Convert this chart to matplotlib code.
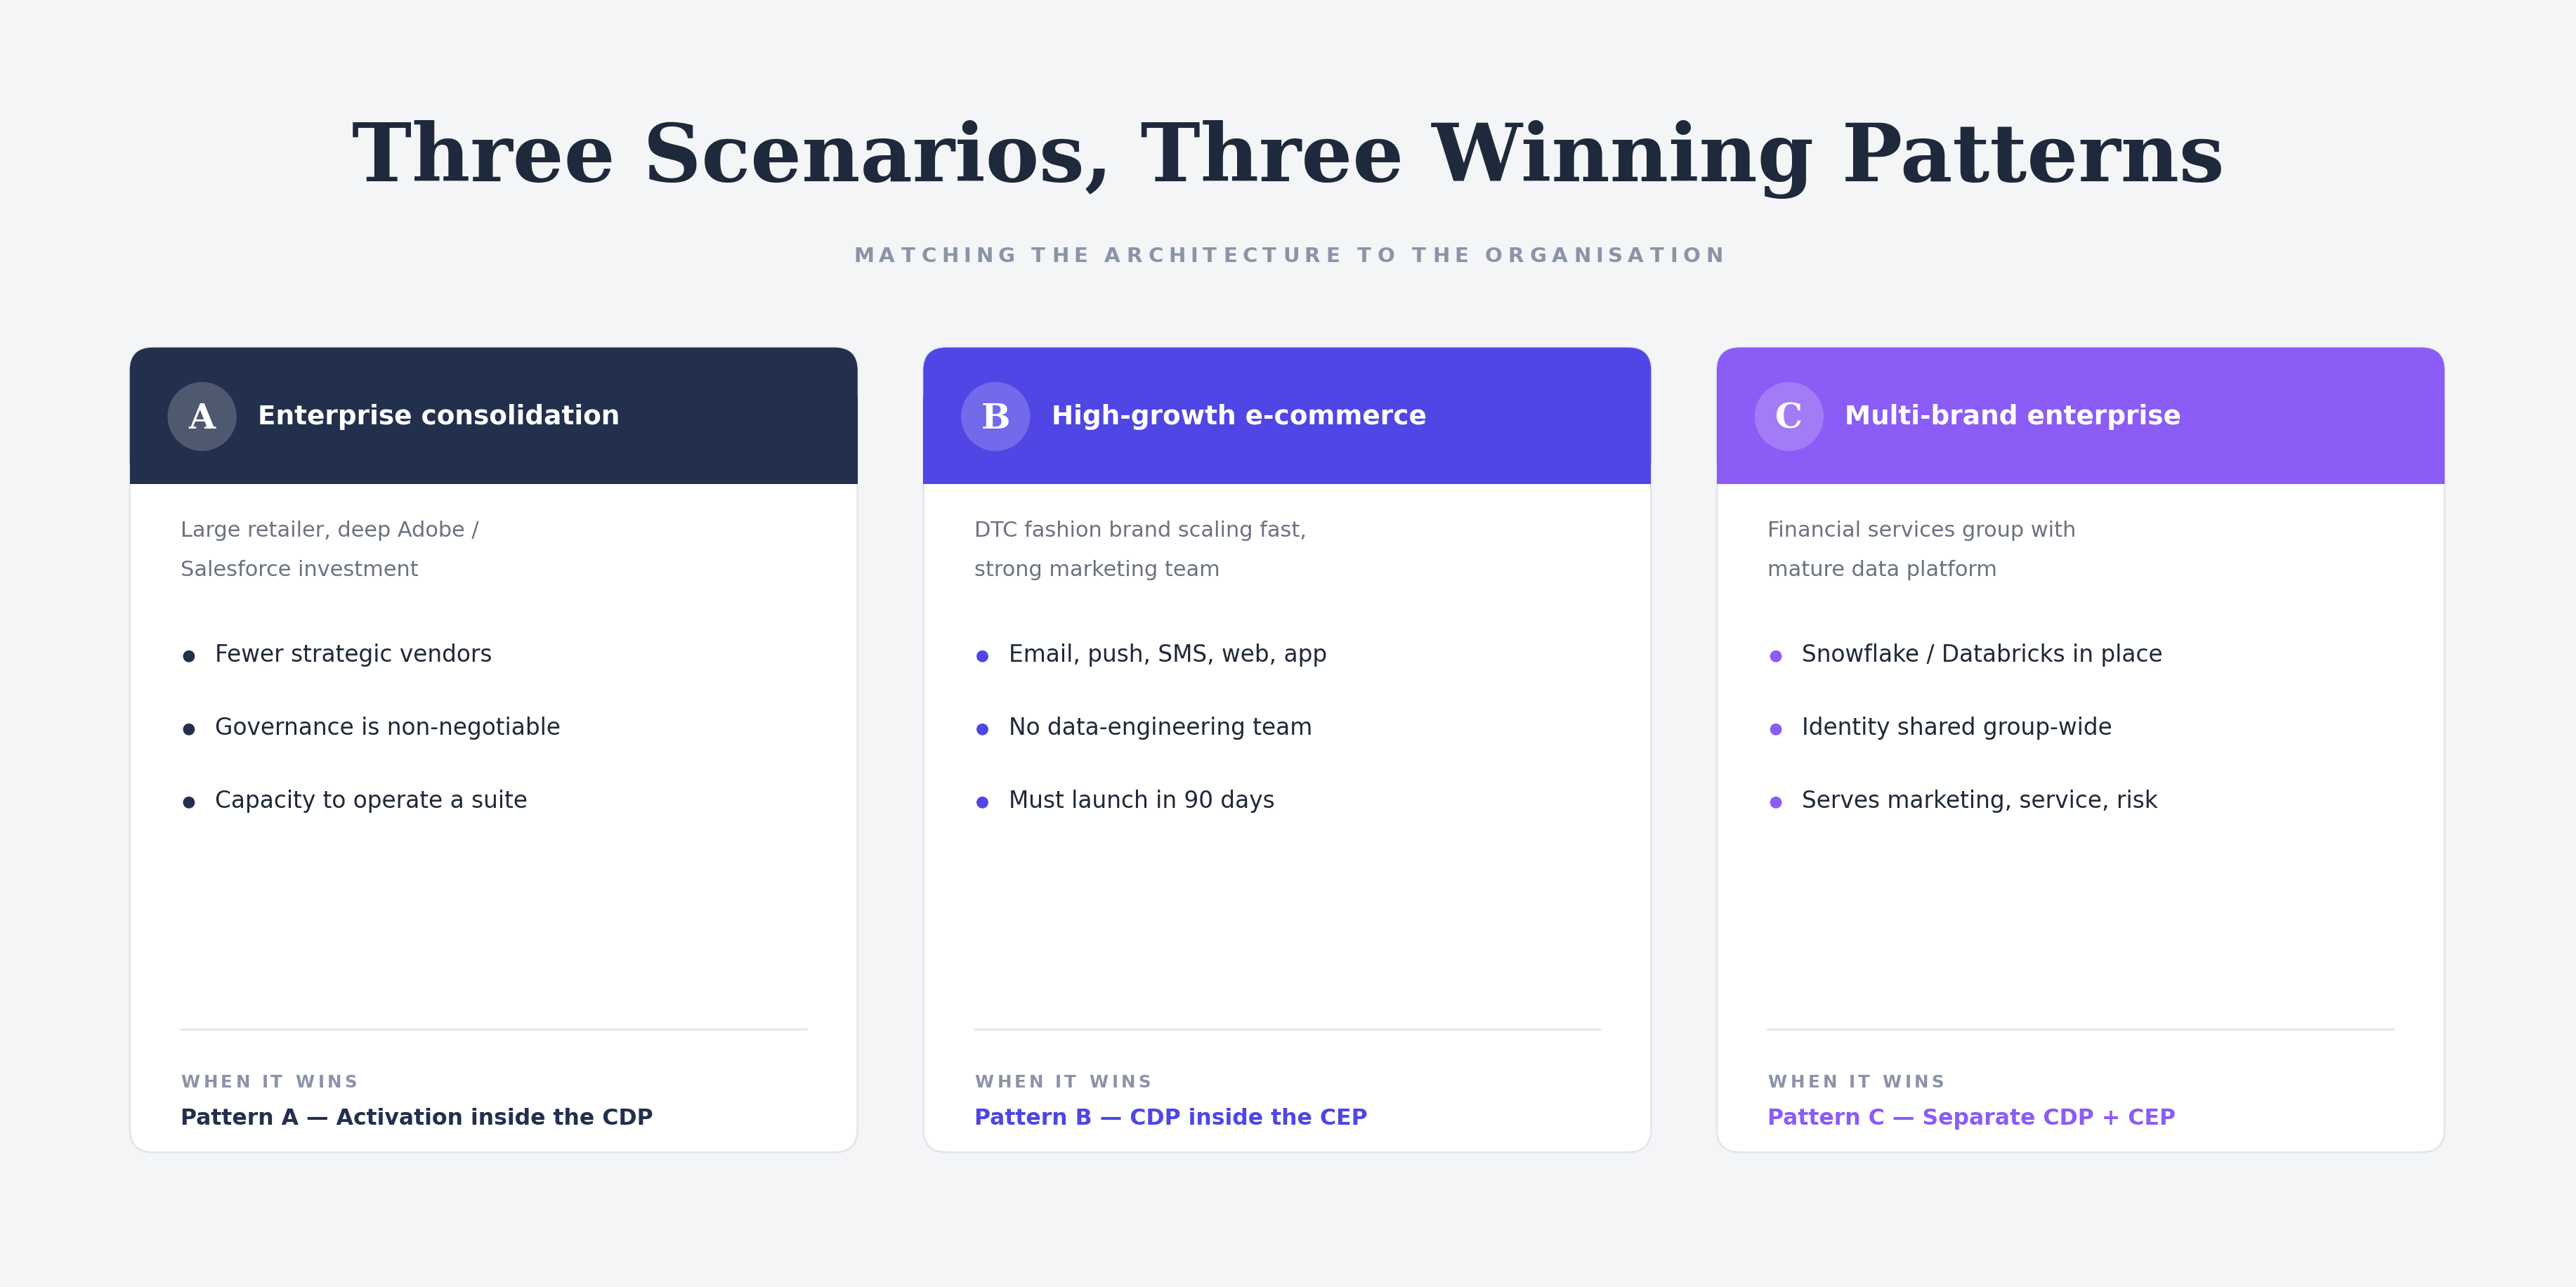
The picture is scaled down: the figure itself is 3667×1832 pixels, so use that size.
import matplotlib
matplotlib.use("Agg")
import matplotlib.pyplot as plt
from matplotlib.patches import FancyBboxPatch, Rectangle, Circle
from matplotlib.textpath import TextPath
from matplotlib.font_manager import FontProperties

title = "Three Scenarios, Three Winning Patterns"
subtitle = "MATCHING THE ARCHITECTURE TO THE ORGANISATION"
letters = ["A", "B", "C"]
card_titles = ["Enterprise consolidation", "High-growth e-commerce", "Multi-brand enterprise"]
descriptions = [["Large retailer, deep Adobe /", "Salesforce investment"],
                ["DTC fashion brand scaling fast,", "strong marketing team"],
                ["Financial services group with", "mature data platform"]]
bullets = [["Fewer strategic vendors", "Governance is non-negotiable", "Capacity to operate a suite"],
           ["Email, push, SMS, web, app", "No data-engineering team", "Must launch in 90 days"],
           ["Snowflake / Databricks in place", "Identity shared group-wide", "Serves marketing, service, risk"]]
patterns = ["Pattern A \u2014 Activation inside the CDP",
            "Pattern B \u2014 CDP inside the CEP",
            "Pattern C \u2014 Separate CDP + CEP"]
header_colors = ["#22304d", "#4f46e5", "#8b5cf6"]
pattern_colors = ["#22304d", "#4f46e5", "#8b5cf6"]

W, H = 1568, 784
S = 3667 / W
def fs(px):
    return px * S * 0.72

fig = plt.figure(figsize=(36.67, 18.33), dpi=100)
fig.patch.set_facecolor("#f4f5f7")
ax = fig.add_axes([0, 0, 1, 1])
ax.set_xlim(0, W); ax.set_ylim(H, 0); ax.axis("off")

def spaced(x_center, y, text, px, color, tracking, weight="bold"):
    fp = FontProperties(family="DejaVu Sans", weight=weight, size=px)
    widths = [TextPath((0, 0), c, prop=fp).get_extents().width if c != " " else px * 0.32 for c in text]
    adv = []
    for c in text:
        if c == " ":
            adv.append(px * 0.32)
        else:
            tp = TextPath((0, 0), c, prop=fp)
            adv.append(tp.get_extents().x1 + px * 0.06)
    total = sum(adv) + tracking * (len(text) - 1)
    x = x_center - total / 2 if x_center is not None else None
    return adv, total

def draw_spaced(x, y, text, px, color, tracking, center=False):
    adv, total = spaced(0, y, text, px, color, tracking)
    if center:
        x = x - total / 2
    for c, a in zip(text, adv):
        ax.text(x, y, c, fontsize=fs(px), color=color, fontweight="bold",
                family="DejaVu Sans", va="center", ha="left")
        x += a + tracking

ax.text(W / 2, 97, title, fontsize=fs(49), family="DejaVu Serif", fontweight="bold",
        color="#1e293b", ha="center", va="center")
draw_spaced(W / 2, 156, subtitle, 12.5, "#8b93a7", 3.2, center=True)

xs = [79, 562, 1045]
cw = 443
top, bot, hb = 212, 702, 295
for i, x0 in enumerate(xs):
    ax.add_patch(FancyBboxPatch((x0, top), cw, bot - top, boxstyle="round,pad=0,rounding_size=14",
                                fc="white", ec="#e3e6eb", lw=2))
    ax.add_patch(FancyBboxPatch((x0, top), cw, hb - top, boxstyle="round,pad=0,rounding_size=14",
                                fc=header_colors[i], ec="none"))
    ax.add_patch(Rectangle((x0, top + 30), cw, hb - top - 30, fc=header_colors[i], ec="none"))
    ax.add_patch(Circle((x0 + 44, 254), 21, fc="white", alpha=0.2, ec="none"))
    ax.text(x0 + 44, 255, letters[i], fontsize=fs(21), family="DejaVu Serif", fontweight="bold",
            color="white", ha="center", va="center")
    ax.text(x0 + 78, 254, card_titles[i], fontsize=fs(16), fontweight="bold", color="white",
            ha="left", va="center")
    for j, line in enumerate(descriptions[i]):
        ax.text(x0 + 31, 323 + 24 * j, line, fontsize=fs(13), color="#6b7280", ha="left", va="center")
    for j, b in enumerate(bullets[i]):
        y = 399 + 44.5 * j
        ax.add_patch(Circle((x0 + 36, y + 1), 3.6, fc=pattern_colors[i], ec="none"))
        ax.text(x0 + 52, y, b, fontsize=fs(14), color="#1f2937", ha="left", va="center")
    ax.plot([x0 + 31, x0 + cw - 31], [627, 627], color="#e5e7eb", lw=2)
    draw_spaced(x0 + 31, 659, "WHEN IT WINS", 10.5, "#8b93a7", 2.0)
    ax.text(x0 + 31, 681, patterns[i], fontsize=fs(13.5), fontweight="bold", color=pattern_colors[i],
            ha="left", va="center")

fig.savefig("out.png", dpi=100, facecolor=fig.get_facecolor())
